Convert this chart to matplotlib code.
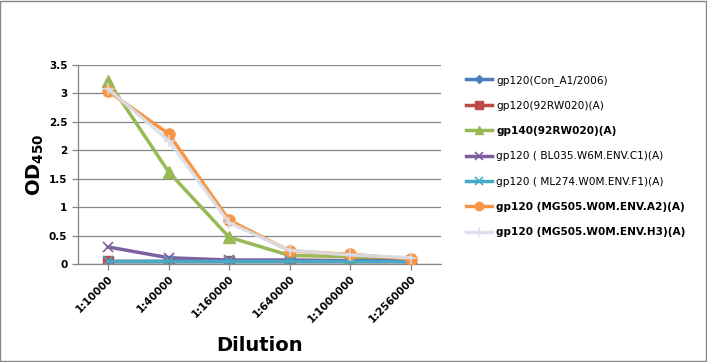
import matplotlib.pyplot as plt
from matplotlib.patches import Rectangle

dilutions = ["1:10000", "1:40000", "1:160000", "1:640000", "1:1000000", "1:2560000"]

con_a1 = [0.05, 0.05, 0.05, 0.05, 0.05, 0.05]
gp120_92rw020 = [0.05, 0.05, 0.05, 0.05, 0.05, 0.05]
gp140_92rw020 = [3.22, 1.62, 0.47, 0.15, 0.13, 0.06]
bl035 = [0.30, 0.11, 0.07, 0.07, 0.06, 0.06]
ml274 = [0.05, 0.05, 0.05, 0.05, 0.05, 0.05]
mg505_a2 = [3.04, 2.29, 0.77, 0.23, 0.17, 0.09]
mg505_h3 = [3.08, 2.17, 0.72, 0.24, 0.16, 0.11]

series_labels = [
    "gp120(Con_A1/2006)",
    "gp120(92RW020)(A)",
    "gp140(92RW020)(A)",
    "gp120 ( BL035.W6M.ENV.C1)(A)",
    "gp120 ( ML274.W0M.ENV.F1)(A)",
    "gp120 (MG505.W0M.ENV.A2)(A)",
    "gp120 (MG505.W0M.ENV.H3)(A)",
]

styles = [
    dict(color="#4a7ebb", marker="D", markersize=5),
    dict(color="#be4b48", marker="s", markersize=7),
    dict(color="#98b954", marker="^", markersize=8),
    dict(color="#7d60a0", marker="x", markersize=7, markeredgewidth=1.2),
    dict(color="#46aac5", marker="x", markersize=7, markeredgewidth=1.2),
    dict(color="#f79646", marker="o", markersize=8),
    dict(color="#d9dfec", marker="+", markersize=9, markeredgewidth=1.2),
]
bold_labels = [False, False, True, False, False, True, True]

fig = plt.figure(figsize=(7.07, 3.62), dpi=100)
fig.patches.append(Rectangle((0.0007, 0.0014), 0.9979, 0.9958, transform=fig.transFigure,
                             fill=False, edgecolor="#868686", linewidth=1.0))
ax = fig.add_axes([0.110, 0.2707, 0.514, 0.5497])

x = list(range(len(dilutions)))
all_series = [con_a1, gp120_92rw020, gp140_92rw020, bl035, ml274, mg505_a2, mg505_h3]
lines = {}
for i in range(7):
    ln, = ax.plot(x, all_series[i], linewidth=2.5, label=series_labels[i], **styles[i])
    lines[i] = ln
lines[5].set_zorder(3)
lines[6].set_zorder(4)
lines[6].set_alpha(0.9)

ax.set_xlim(-0.5, 5.5)
ax.set_ylim(0, 3.5)
ax.set_yticks([0, 0.5, 1, 1.5, 2, 2.5, 3, 3.5])
ax.set_yticklabels(["0", "0.5", "1", "1.5", "2", "2.5", "3", "3.5"],
                   fontsize=7.5, fontweight="bold")
ax.set_xticks(x)
ax.set_xticklabels(dilutions, rotation=45, ha="right", rotation_mode="anchor",
                   fontsize=7.5, fontweight="bold")
ax.yaxis.grid(True, color="#868686", linewidth=0.9)
ax.set_axisbelow(True)
for side in ["top", "right"]:
    ax.spines[side].set_visible(False)
for side in ["left", "bottom"]:
    ax.spines[side].set_color("#868686")
    ax.spines[side].set_linewidth(0.9)
ax.tick_params(axis="both", color="#868686", length=4, width=0.9)
ax.tick_params(axis="x", pad=3)

ax.set_ylabel("OD$_{\\mathbf{450}}$", fontsize=14, fontweight="bold", labelpad=2)
ax.set_xlabel("Dilution", fontsize=14, fontweight="bold", labelpad=8)

handles = [lines[i] for i in range(7)]
leg = fig.legend(handles, series_labels, loc="upper left",
                 bbox_to_anchor=(0.645, 0.82), frameon=False, fontsize=7.6,
                 handlelength=2.5, labelspacing=1.45, handletextpad=0.4,
                 markerscale=0.75)
for txt, b in zip(leg.get_texts(), bold_labels):
    if b:
        txt.set_fontweight("bold")

fig.savefig("out.png", dpi=100)
